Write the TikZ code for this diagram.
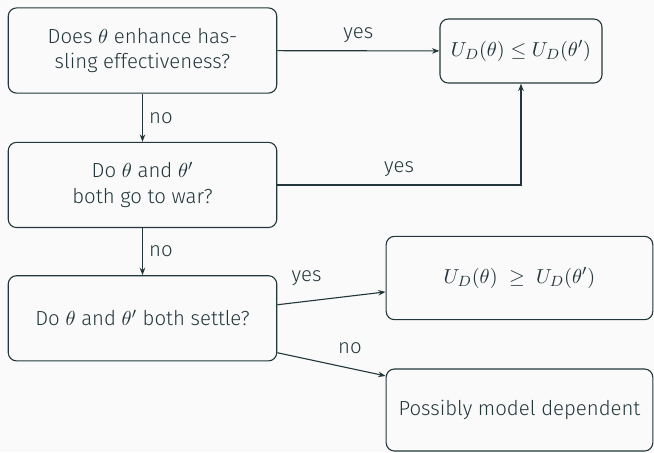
\documentclass[tikz,border=0pt]{standalone}
\usepackage{fontspec}
\setmainfont{Fira Sans}[UprightFont={* Light},ItalicFont={* Light Italic}]
\usetikzlibrary{positioning,arrows.meta}
\definecolor{mdarkteal}{HTML}{23373B}
\definecolor{mbg}{HTML}{FAFAFA}

\begin{document}
\begin{tikzpicture}[x=0.54pt,y=-0.54pt,
  font=\fontsize{11}{14}\selectfont,color=mdarkteal,line width=0.6pt,
  qbox/.style={draw,rounded corners=4.5pt,align=center,inner sep=0pt,
    minimum width=145pt,minimum height=46pt},
  rbox/.style={draw,rounded corners=4.5pt,align=center,inner sep=0pt,
    minimum width=144pt,minimum height=45pt},
  arr/.style={-{Stealth[length=4pt,width=3pt]}}]

  \fill[mbg] (0,0) rectangle (654,452);
  \useasboundingbox (0,0) rectangle (654,452);

  \node[qbox] (q1) at (142.5,50.5) {Does $\theta$ enhance has-\\sling effectiveness?};
  \node[qbox,below=26pt of q1] (q2) {Do $\theta$ and $\theta'$\\both go to war?};
  \node[qbox,below=25.4pt of q2] (q3) {Do $\theta$ and $\theta'$ both settle?};

  \node[rbox,minimum width=87.5pt,minimum height=34.6pt] (r1) at (521,51)
    {$U_D(\theta) \leq U_D(\theta')$};
  \node[rbox] (r2) at (519.5,278) {$U_D(\theta)\ \geq\ U_D(\theta')$};
  \node[rbox,minimum height=44.3pt] (r3) at (519.5,410) {Possibly model dependent};

  \draw[arr] (q1) -- node[above=1pt] {yes} (r1);
  \draw[arr] (q1) -- node[right] {no} (q2);
  \draw[arr] (q2) -| node[pos=0.25,above=1pt] {yes} (r1);
  \draw[arr] (q2) -- node[right] {no} (q3);
  \draw[arr] ([yshift=7.3pt]q3.east) -- node[pos=0.27,above=5pt] {yes} ([yshift=-7.5pt]r2.west);
  \draw[arr] ([yshift=-18.6pt]q3.east) -- node[pos=0.67,above=4pt] {no} ([yshift=18.4pt]r3.west);
\end{tikzpicture}
\end{document}
